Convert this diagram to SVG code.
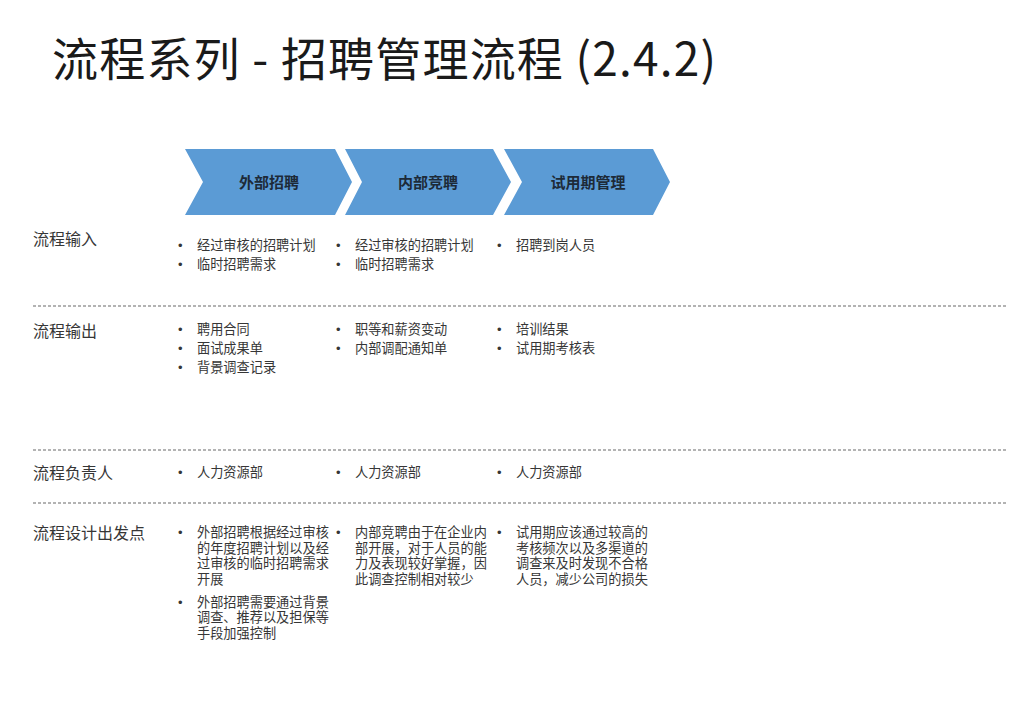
<svg xmlns="http://www.w3.org/2000/svg" width="1024" height="708" viewBox="0 0 1024 708">
<style>
  .title { font-family: "Noto Sans CJK SC", "Noto Sans", sans-serif; font-size: 46px; font-weight: 400; fill: #1a1a1a; }
  .chev { fill: #5b9bd5; }
  .chevText { font-family: "Noto Sans CJK SC", sans-serif; font-size: 15px; font-weight: 700; fill: #1d2a38; text-anchor: middle; }
  .label { font-family: "Noto Sans CJK SC", sans-serif; font-size: 16px; fill: #363636; }
  .item { font-family: "Noto Sans CJK SC", sans-serif; font-size: 13.2px; fill: #363636; }
  .bullet { font-family: "Liberation Sans", sans-serif; font-size: 13px; fill: #363636; }
  .sep { stroke: #9a9a9a; stroke-width: 1.5; stroke-dasharray: 3 2; fill: none; }
</style>
<rect width="1024" height="708" fill="#ffffff"/>
<text class="title" x="52" y="76" textLength="664" lengthAdjust="spacing">流程系列 - 招聘管理流程 (2.4.2)</text>

<g id="node-waibu">
  <polygon class="chev" points="185,149 335,149 352,182 335,215 185,215 203,182"/>
  <text class="chevText" x="269" y="188">外部招聘</text>
</g>
<g id="node-neibu">
  <polygon class="chev" points="345,149 493,149 511,182 493,215 345,215 362,182"/>
  <text class="chevText" x="428" y="188">内部竞聘</text>
</g>
<g id="node-shiyong">
  <polygon class="chev" points="504,149 653,149 670,182 653,215 504,215 522,182"/>
  <text class="chevText" x="588" y="188">试用期管理</text>
</g>

<g id="connectors">
  <line class="sep" x1="33" y1="306" x2="1008" y2="306"/>
  <line class="sep" x1="33" y1="450" x2="1008" y2="450"/>
  <line class="sep" x1="33" y1="503" x2="1008" y2="503"/>
</g>

<g id="row-input">
  <text class="label" x="33" y="245">流程输入</text>
  <text class="bullet" x="178" y="250">•</text><text class="item" x="197" y="250">经过审核的招聘计划</text>
  <text class="bullet" x="178" y="269">•</text><text class="item" x="197" y="269">临时招聘需求</text>
  <text class="bullet" x="336" y="250">•</text><text class="item" x="355" y="250">经过审核的招聘计划</text>
  <text class="bullet" x="336" y="269">•</text><text class="item" x="355" y="269">临时招聘需求</text>
  <text class="bullet" x="497" y="250">•</text><text class="item" x="516" y="250">招聘到岗人员</text>
</g>

<g id="row-output">
  <text class="label" x="33" y="337">流程输出</text>
  <text class="bullet" x="178" y="334">•</text><text class="item" x="197" y="334">聘用合同</text>
  <text class="bullet" x="178" y="353">•</text><text class="item" x="197" y="353">面试成果单</text>
  <text class="bullet" x="178" y="372">•</text><text class="item" x="197" y="372">背景调查记录</text>
  <text class="bullet" x="336" y="334">•</text><text class="item" x="355" y="334">职等和薪资变动</text>
  <text class="bullet" x="336" y="353">•</text><text class="item" x="355" y="353">内部调配通知单</text>
  <text class="bullet" x="497" y="334">•</text><text class="item" x="516" y="334">培训结果</text>
  <text class="bullet" x="497" y="353">•</text><text class="item" x="516" y="353">试用期考核表</text>
</g>

<g id="row-owner">
  <text class="label" x="33" y="479">流程负责人</text>
  <text class="bullet" x="178" y="477">•</text><text class="item" x="197" y="477">人力资源部</text>
  <text class="bullet" x="336" y="477">•</text><text class="item" x="355" y="477">人力资源部</text>
  <text class="bullet" x="497" y="477">•</text><text class="item" x="516" y="477">人力资源部</text>
</g>

<g id="row-design">
  <text class="label" x="33" y="539">流程设计出发点</text>
  <text class="bullet" x="178" y="537">•</text>
  <text class="item" x="197" y="537"><tspan x="197" y="537">外部招聘根据经过审核</tspan><tspan x="197" y="552.5">的年度招聘计划以及经</tspan><tspan x="197" y="568">过审核的临时招聘需求</tspan><tspan x="197" y="583.5">开展</tspan></text>
  <text class="bullet" x="178" y="606.5">•</text>
  <text class="item" x="197" y="606.5"><tspan x="197" y="606.5">外部招聘需要通过背景</tspan><tspan x="197" y="622">调查、推荐以及担保等</tspan><tspan x="197" y="637.5">手段加强控制</tspan></text>
  <text class="bullet" x="336" y="537">•</text>
  <text class="item" x="355" y="537"><tspan x="355" y="537">内部竞聘由于在企业内</tspan><tspan x="355" y="552.5">部开展，对于人员的能</tspan><tspan x="355" y="568">力及表现较好掌握，因</tspan><tspan x="355" y="583.5">此调查控制相对较少</tspan></text>
  <text class="bullet" x="497" y="537">•</text>
  <text class="item" x="516" y="537"><tspan x="516" y="537">试用期应该通过较高的</tspan><tspan x="516" y="552.5">考核频次以及多渠道的</tspan><tspan x="516" y="568">调查来及时发现不合格</tspan><tspan x="516" y="583.5">人员，减少公司的损失</tspan></text>
</g>
</svg>
